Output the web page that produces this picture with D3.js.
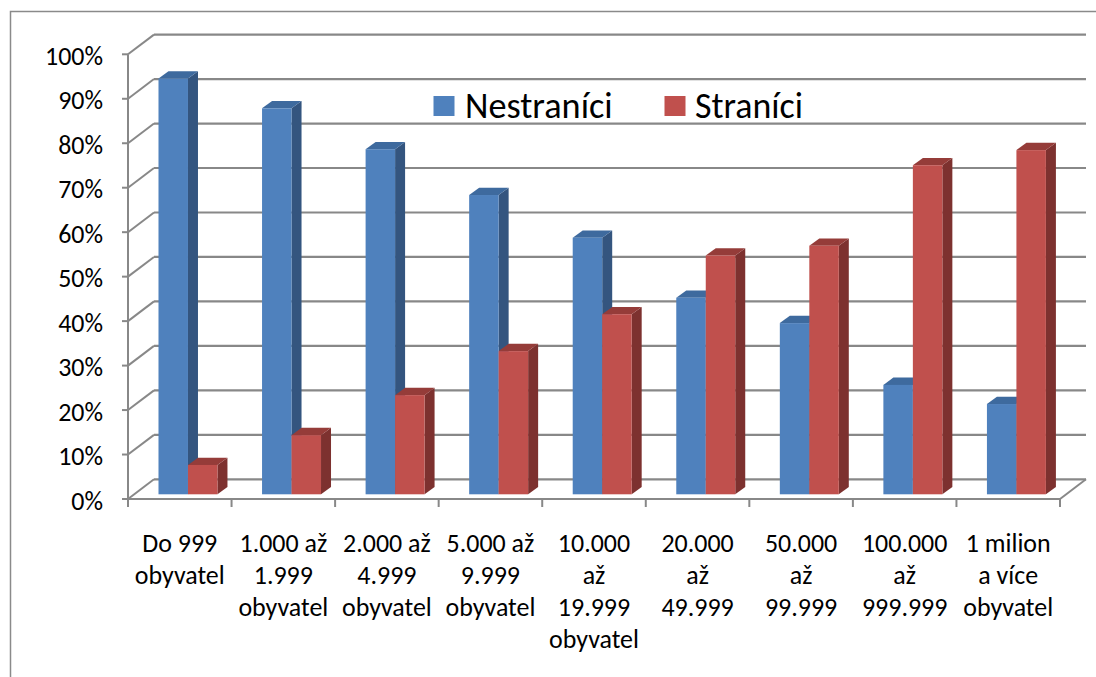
<!DOCTYPE html>
<html><head><meta charset="utf-8">
<script src="https://cdn.jsdelivr.net/npm/d3@7"></script>
<style>body{margin:0;background:#fff}svg{display:block}</style>
</head><body>
<svg id="c" width="1096" height="677"></svg>
<script>
const categories = [
  ["Do 999","obyvatel"],
  ["1.000 až","1.999","obyvatel"],
  ["2.000 až","4.999","obyvatel"],
  ["5.000 až","9.999","obyvatel"],
  ["10.000","až","19.999","obyvatel"],
  ["20.000","až","49.999"],
  ["50.000","až","99.999"],
  ["100.000","až","999.999"],
  ["1 milion","a více","obyvatel"]
];
const seriesNames = ["Nestraníci","Straníci"];
const nestranici = [93.5, 86.8, 77.6, 67.3, 57.7, 44.2, 38.5, 24.6, 20.3];
const stranici   = [6.6, 13.3, 22.3, 32.2, 40.5, 53.7, 55.9, 74.0, 77.4];
const yTicks = [0,10,20,30,40,50,60,70,80,90,100];

const FONT = "Carlito, Calibri, Lato, sans-serif";
const grid = "#888888";
const colors = {
  Nestraníci: {front:"#4F81BD", side:"#34557F", top:"#3E6A9E"},
  Straníci:   {front:"#C0504D", side:"#7D312F", top:"#953C39"}
};

const svg = d3.select("#c");
// outer frame
svg.append("rect").attr("x",10.5).attr("y",11.5).attr("width",1100).attr("height",700)
  .attr("fill","none").attr("stroke","#8a8a8a").attr("stroke-width",1.5);

const x = d3.scaleBand().domain(d3.range(categories.length)).range([128,1060]);
const y = d3.scaleLinear().domain([0,100]).range([499,54.3]);
const DX = 26, DY = -19.7;       // wall depth
const PX = 8.2, PY = -4.7;       // bar plane offset
const BX = 10, BY = -7.3;        // bar depth
const xi = d3.scaleBand().domain(seriesNames).range([0,x.bandwidth()]).paddingOuter(0.756);

const g = svg.append("g");
// back wall gridlines + side wall diagonals
yTicks.forEach(v=>{
  g.append("line").attr("x1",128+DX).attr("x2",1060+DX).attr("y1",y(v)+DY).attr("y2",y(v)+DY)
    .attr("stroke",grid).attr("stroke-width",2.2);
  g.append("line").attr("x1",128).attr("x2",128+DX).attr("y1",y(v)).attr("y2",y(v)+DY)
    .attr("stroke",grid).attr("stroke-width",2);
  g.append("line").attr("x1",122).attr("x2",128).attr("y1",y(v)).attr("y2",y(v))
    .attr("stroke",grid).attr("stroke-width",2);
});
// floor front + right diagonal
g.append("line").attr("x1",128).attr("x2",1060).attr("y1",y(0)).attr("y2",y(0)).attr("stroke",grid).attr("stroke-width",2.2);
g.append("line").attr("x1",1060).attr("x2",1060+DX).attr("y1",y(0)).attr("y2",y(0)+DY).attr("stroke",grid).attr("stroke-width",2);
// vertical value axis
g.append("line").attr("x1",128).attr("x2",128).attr("y1",y(100)).attr("y2",y(0)).attr("stroke",grid).attr("stroke-width",2);
// category ticks
d3.range(categories.length+1).forEach(i=>{
  const xx = i<categories.length ? x(i) : x(categories.length-1)+x.bandwidth();
  g.append("line").attr("x1",xx).attr("x2",xx).attr("y1",y(0)).attr("y2",y(0)+8).attr("stroke",grid).attr("stroke-width",2);
});

// y labels
g.selectAll("text.yl").data(yTicks).join("text").attr("class","yl")
  .attr("x",103).attr("y",d=>y(d)+1.5).attr("text-anchor","end").attr("dominant-baseline","central")
  .attr("font-family",FONT).attr("font-size",26).attr("fill","#000").text(d=>d+"%");

// fit font size to Calibri-equivalent widths
function fit(sel, target){
  const w = sel.node().getComputedTextLength();
  const fs = +sel.attr("font-size");
  sel.attr("font-size", fs*target/w);
  return fs*target/w;
}
const probe = g.append("text").attr("font-family",FONT).attr("font-size",26).text("100%");
const axisFS = fit(probe, 58);
probe.remove();
g.selectAll("text.yl").attr("font-size",axisFS);

// bars
const bars = svg.append("g");
function bar(i, s, v){
  const c = colors[s];
  const x0 = x(i)+xi(s)+PX, x1 = x0+xi.bandwidth();
  const yt = y(v)+PY, yb = y(0)+PY;
  bars.append("polygon").attr("points",[[x1,yt],[x1+BX,yt+BY],[x1+BX,yb+BY],[x1,yb]].join(" ")).attr("fill",c.side);
  bars.append("polygon").attr("points",[[x0,yt],[x0+BX,yt+BY],[x1+BX,yt+BY],[x1,yt]].join(" ")).attr("fill",c.top);
  bars.append("rect").attr("x",x0).attr("y",yt).attr("width",x1-x0).attr("height",yb-yt).attr("fill",c.front);
}
categories.forEach((c,i)=>{ bar(i,"Nestraníci",nestranici[i]); bar(i,"Straníci",stranici[i]); });

// category labels
const lab = svg.append("g");
categories.forEach((lines,i)=>{
  const t = lab.append("text").attr("text-anchor","middle").attr("font-family",FONT).attr("font-size",axisFS).attr("fill","#000");
  lines.forEach((l,j)=>t.append("tspan").attr("x",x(i)+x.bandwidth()/2).attr("y",551.5+j*32.3).text(l));
});

// legend
const lg = svg.append("g");
const leg = [{name:"Nestraníci",sx:433.5,tx:465,w:147.7},{name:"Straníci",sx:664.5,tx:695,w:108}];
leg.forEach(d=>{
  lg.append("rect").attr("x",d.sx).attr("y",96).attr("width",21).attr("height",20).attr("fill",colors[d.name].front);
  const t = lg.append("text").attr("x",d.tx).attr("y",117.5).attr("font-family",FONT).attr("font-size",36).attr("fill","#000").text(d.name);
  fit(t, d.w);
});
</script>
</body></html>
